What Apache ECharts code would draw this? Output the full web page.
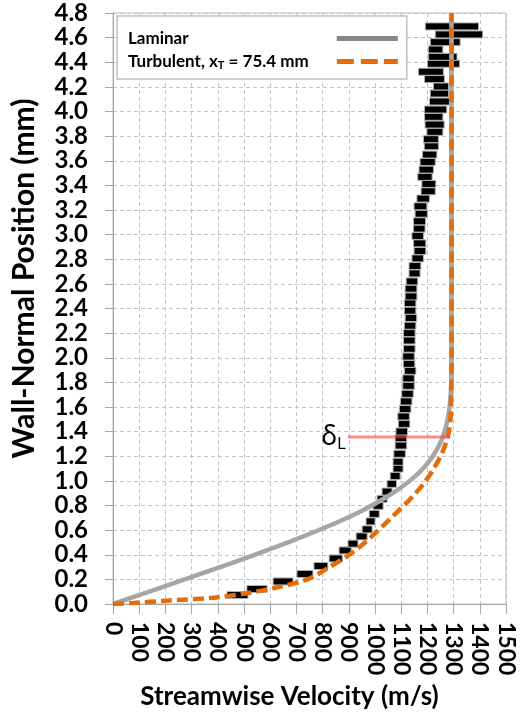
<!DOCTYPE html>
<html>
<head>
<meta charset="utf-8">
<script src="https://cdn.jsdelivr.net/npm/echarts@6/dist/echarts.min.js"></script>
<style>html,body{margin:0;padding:0;background:#fff;}#c{width:522px;height:715px;}</style>
</head>
<body>
<div id="c"></div>
<script>
// ---- Data ----
const laminarU = [0,172,342,509,668,814,943,1049,1133,1194,1235,1262,1277,1286,1290,1292,1292,1292];
const laminarY = [0,0.125,0.25,0.375,0.5,0.625,0.75,0.875,1.0,1.125,1.25,1.375,1.5,1.625,1.75,1.875,2.0,4.8];

const turbU = [0,77,204,382,510,612,714,765,828,892,943,994,1045,1096,1147,1190,1223,1255,1278,1288,1291,1292,1292];
const turbY = [0,0.008,0.027,0.051,0.087,0.128,0.18,0.222,0.303,0.385,0.466,0.561,0.665,0.77,0.88,0.99,1.095,1.22,1.36,1.5,1.7,2.0,4.8];

// measured profile rows: wall-normal position and velocity range of each marker
const profileY = [0.073,0.122,0.183,0.244,0.309,0.37,0.435,0.49,0.549,0.606,0.671,0.732,0.797,0.854,0.913,0.976,1.04,1.10,1.155,1.22,1.287,1.347,1.401,1.463,1.523,1.583,1.645,1.707,1.772,1.832,1.894,1.951,2.01,2.073,2.14,2.2,2.26,2.323,2.382,2.445,2.498,2.561,2.62,2.685,2.745,2.807,2.867,2.929,2.989,3.049,3.108,3.17,3.23,3.293,3.352,3.412,3.469,3.528,3.59,3.65,3.718,3.775,3.835,3.894,3.957,4.016,4.081,4.146,4.203,4.263,4.323,4.388,4.444,4.504,4.563,4.626,4.691];
const profileULow = [435,511,611,702,767,825,863,897,928,951,966,978,993,1008,1027,1046,1058,1069,1069,1072,1077,1077,1080,1089,1087,1093,1097,1102,1106,1106,1112,1108,1106,1109,1109,1109,1112,1115,1112,1112,1115,1115,1119,1130,1130,1141,1149,1147,1141,1147,1147,1153,1149,1160,1176,1179,1163,1168,1172,1181,1188,1185,1198,1191,1189,1189,1208,1211,1223,1189,1166,1200,1204,1204,1211,1230,1192];
const profileUHigh = [515,588,687,763,820,875,909,935,970,989,1000,1016,1031,1046,1065,1082,1096,1107,1107,1116,1121,1121,1124,1133,1131,1137,1141,1146,1150,1150,1156,1152,1150,1153,1153,1153,1156,1159,1156,1156,1160,1160,1163,1172,1175,1185,1194,1194,1185,1191,1193,1200,1198,1208,1230,1232,1218,1223,1230,1236,1242,1242,1259,1264,1259,1274,1284,1281,1281,1265,1261,1323,1313,1259,1325,1411,1395];

const deltaLU = [897, 1287];
const deltaLY = [1.356, 1.356];

const xTicks = {min: 0, max: 1500, interval: 100};
const yTicks = {min: 0, max: 4.8, interval: 0.2};

// ---- Build chart ----
const FONT = 'Lato, "Open Sans", sans-serif';
const pair = (xs, ys) => xs.map((v, i) => [v, ys[i]]);
const profileData = profileY.map((y, i) => [profileULow[i], profileUHigh[i], y]);

// measure legend text so both labels start at the same x (icons are right-aligned by the legend)
const LEG_FS = 17, SUB_FS = 11, ICON_GAP = 23;
const ctx = document.createElement('canvas').getContext('2d');
ctx.font = 'bold ' + LEG_FS + 'px ' + FONT;
const wA = ctx.measureText('Turbulent, x').width;
const wU = ctx.measureText(' = 75.4 mm').width;
const wLam = ctx.measureText('Laminar').width;
ctx.font = 'bold ' + SUB_FS + 'px ' + FONT;
const wS = ctx.measureText('T').width;
const lamPad = Math.max(0, wA + wS + wU - wLam) + ICON_GAP;

const chart = echarts.init(document.getElementById('c'), null, {renderer: 'canvas'});
chart.setOption({
  animation: false,
  backgroundColor: '#fff',
  grid: {left: 113, right: 16, top: 13, bottom: 111, show: true, borderColor: '#bfbfbf', borderWidth: 1},
  legend: {
    orient: 'vertical', left: 117, top: 16,
    padding: [14, 9, 8, 11],
    backgroundColor: '#fff', borderColor: '#c0c0c0', borderWidth: 1.5,
    align: 'right', itemWidth: 61, itemHeight: 5, itemGap: 6,
    data: [
      {name: 'Laminar', icon: 'path://M0,0H61V5H0Z', itemStyle: {color: '#858585'}},
      {name: 'Turbulent, xT = 75.4 mm', icon: 'path://M0,0H17V5H0Z M24,0H41V5H24Z M47,0H61V5H47Z', itemStyle: {color: '#E46C0A'}}
    ],
    formatter: n => n === 'Laminar' ? '{lam|Laminar}' : '{a|Turbulent, x}{s|T}{u| = 75.4 mm}',
    textStyle: {
      rich: {
        lam: {fontFamily: FONT, fontWeight: 'bold', fontSize: LEG_FS, color: '#000', lineHeight: 20, padding: [0, lamPad, 0, 0]},
        a: {fontFamily: FONT, fontWeight: 'bold', fontSize: LEG_FS, color: '#000', lineHeight: 20},
        u: {fontFamily: FONT, fontWeight: 'bold', fontSize: LEG_FS, color: '#000', lineHeight: 20, padding: [0, ICON_GAP, 0, 0]},
        s: {fontFamily: FONT, fontWeight: 'bold', fontSize: SUB_FS, color: '#000', padding: [8, 0, 0, 0]}
      }
    }
  },
  xAxis: {
    type: 'value', min: xTicks.min, max: xTicks.max, interval: xTicks.interval,
    name: 'Streamwise Velocity (m/s)', nameLocation: 'middle', nameGap: 80,
    nameTextStyle: {fontFamily: FONT, fontWeight: 'bold', fontSize: 26, color: '#000', padding: [0, 40, 0, 0]},
    axisLine: {show: true, lineStyle: {color: '#a6a6a6', width: 1}},
    axisTick: {show: true, length: 10, lineStyle: {color: '#a6a6a6'}},
    axisLabel: {rotate: -90, margin: 18, fontFamily: FONT, fontWeight: 'bold', fontSize: 23, color: '#000', formatter: v => String(v)},
    splitLine: {show: true, lineStyle: {color: '#c3c3c3', type: [4, 3], width: 1}}
  },
  yAxis: {
    type: 'value', min: yTicks.min, max: yTicks.max, interval: yTicks.interval,
    name: 'Wall-Normal Position (mm)', nameLocation: 'middle', nameGap: 74,
    nameTextStyle: {fontFamily: FONT, fontWeight: 'bold', fontSize: 30, color: '#000', padding: [0, 0, 0, 60]},
    axisLine: {show: true, lineStyle: {color: '#a6a6a6', width: 1}},
    axisTick: {show: true, length: 8, lineStyle: {color: '#a6a6a6'}},
    axisLabel: {margin: 25, fontFamily: FONT, fontWeight: 'bold', fontSize: 24, color: '#000', formatter: v => v.toFixed(1)},
    splitLine: {show: true, lineStyle: {color: '#c3c3c3', type: [4, 3], width: 1}}
  },
  series: [
    {
      name: 'Measured', type: 'custom', z: 2,
      encode: {x: [0, 1], y: 2},
      data: profileData,
      renderItem: (params, api) => {
        const p1 = api.coord([api.value(0), api.value(2)]);
        const p2 = api.coord([api.value(1), api.value(2)]);
        return {type: 'rect', shape: {x: p1[0], y: p1[1] - 3.5, width: p2[0] - p1[0], height: 7},
                style: {fill: '#000', stroke: '#b0b0b0', lineWidth: 1}};
      }
    },
    {
      name: 'Laminar', type: 'line', z: 3, showSymbol: false, symbol: 'none', smooth: 0.25,
      data: pair(laminarU, laminarY),
      lineStyle: {color: '#a6a6a6', width: 4.5},
      itemStyle: {color: '#a6a6a6'}
    },
    {
      name: 'Turbulent, xT = 75.4 mm', type: 'line', z: 4, showSymbol: false, symbol: 'none', smooth: 0.25,
      data: pair(turbU, turbY),
      lineStyle: {color: '#E46C0A', width: 4.5, type: [11, 5]},
      itemStyle: {color: '#E46C0A'}
    },
    {
      name: 'deltaL', type: 'line', z: 5, symbol: 'circle', symbolSize: 0, showSymbol: true,
      data: pair(deltaLU, deltaLY).map((p, i) => i === 0 ? {value: p, label: {
        show: true, position: 'left', distance: 2,
        formatter: '{d|δ}{l|L}',
        rich: {
          d: {fontFamily: '"Noto Sans", "DejaVu Sans", sans-serif', fontSize: 27, color: '#000'},
          l: {fontFamily: '"Noto Sans", sans-serif', fontSize: 17, color: '#000', padding: [14, 0, 0, 0]}
        }
      }} : {value: p}),
      lineStyle: {color: 'rgba(255,60,70,0.6)', width: 3},
      itemStyle: {color: 'rgba(255,60,70,0.6)'}
    }
  ]
});
</script>
</body>
</html>
